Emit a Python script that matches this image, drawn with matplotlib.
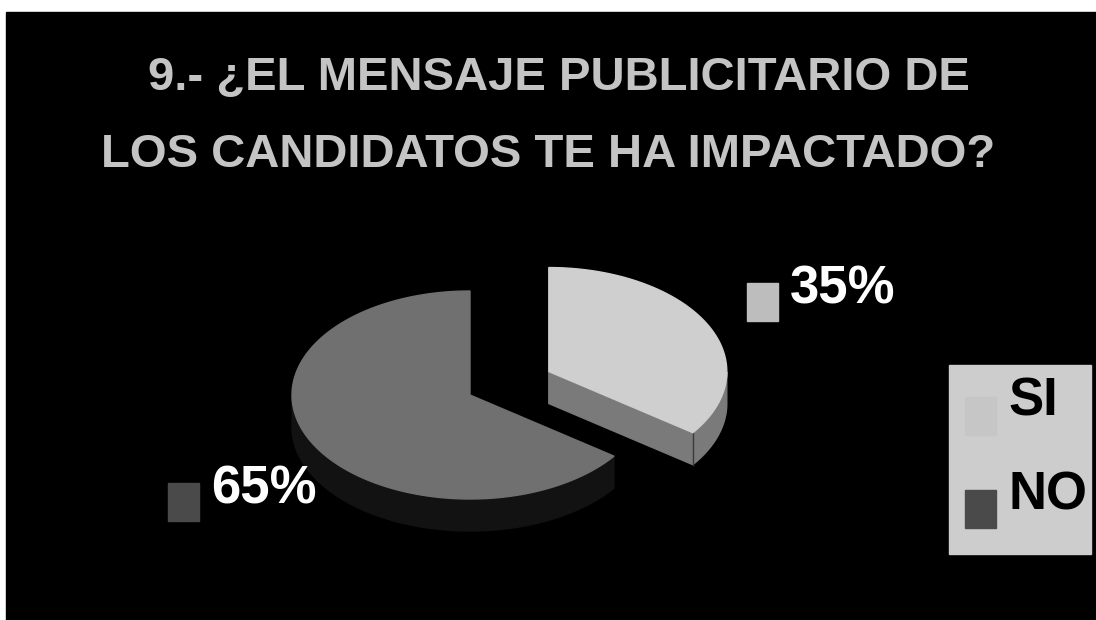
import numpy as np
import matplotlib.pyplot as plt
from matplotlib.patches import Polygon, Rectangle
from matplotlib import font_manager

# Survey answers for question 9
categories = ['SI', 'NO']
values = [35, 65]
top_colors = ['#cfcfcf', '#707070']
side_colors = ['#7a7a7a', '#121212']
marker_colors = ['#bdbdbd', '#4a4a4a']
title_lines = ['9.- ¿EL MENSAJE PUBLICITARIO DE',
               'LOS CANDIDATOS TE HA IMPACTADO?']

names = {f.name for f in font_manager.fontManager.ttflist}
narrow = 'Liberation Sans Narrow' if 'Liberation Sans Narrow' in names else 'Liberation Sans'
fam = [narrow, 'DejaVu Sans']

W, H = 1096, 620
fig = plt.figure(figsize=(W / 100, H / 100), dpi=100, facecolor='white')
ax = fig.add_axes([0, 0, 1, 1])
ax.set_xlim(0, W)
ax.set_ylim(H, 0)
ax.axis('off')

# black slide area
ax.add_patch(Rectangle((6, 12), W - 6, H - 12, color='black', zorder=0))

title_x = [559, 548]
for i, line in enumerate(title_lines):
    ax.text(title_x[i], 90 + i * 77, line, ha='center', va='baseline', color='#c4c4c4',
            fontsize=34, fontweight='bold', family=fam)

# 3d pie geometry (pixel units, y grows downwards)
cx, cy = 470, 395
rx, ry = 178, 104
depth = 32
explode = [0.54, 0.0]


def rim(x0, y0, a):
    a = np.radians(a)
    return x0 + rx * np.cos(a), y0 - ry * np.sin(a)


total = sum(values)
start = 90.0
slices = []
for v, e in zip(values, explode):
    sweep = 360.0 * v / total
    a0, a1 = start - sweep, start
    mid = np.radians((a0 + a1) / 2)
    x0 = cx + e * rx * np.cos(mid) * 0.92
    y0 = cy - e * ry * np.sin(mid) * 0.92
    slices.append((x0, y0, a0, a1))
    start = a0

# NO drawn first, it sits behind
for k in [1, 0]:
    x0, y0, a0, a1 = slices[k]
    ang = np.linspace(a0, a1, 300)
    # outer wall on the front half of the ellipse
    front = ang[np.sin(np.radians(ang)) <= 0]
    if len(front):
        px, py = rim(x0, y0, front)
        pts = np.column_stack([np.r_[px, px[::-1]], np.r_[py, py[::-1] + depth]])
        ax.add_patch(Polygon(pts, closed=True, color=side_colors[k], zorder=2))
    # radial face on the start edge (visible for the pulled out slice)
    if k == 0:
        ex, ey = rim(x0, y0, a0)
        face = [(x0, y0), (ex, ey), (ex, ey + depth), (x0, y0 + depth)]
        ax.add_patch(Polygon(face, closed=True, color=side_colors[k], zorder=3))
        ax.plot([ex, ex], [ey, ey + depth], color='#3a3a3a', lw=1, zorder=3)
    px, py = rim(x0, y0, ang)
    top = np.column_stack([np.r_[x0, px, x0], np.r_[y0, py, y0]])
    ax.add_patch(Polygon(top, closed=True, color=top_colors[k], zorder=4))

# percentage labels beside each slice
label_pos = [(790, 290), (211, 490)]
for k, (lx, ly) in enumerate(label_pos):
    ax.add_patch(Rectangle((lx - 43, ly - 7), 31, 38, color=marker_colors[k], zorder=5))
    ax.text(lx, ly, f'{values[k]}%', ha='left', va='center', color='white',
            fontsize=38, fontweight='bold', family=fam, zorder=5)

# legend box
ax.add_patch(Rectangle((949, 365), 142, 189, color='#cdcdcd', zorder=5))
for k, name in enumerate(categories):
    yy = 390 + k * 93
    ax.add_patch(Rectangle((965, yy + 7), 31, 38, color=marker_colors[k] if k else '#c6c6c6', zorder=6))
    ax.text(1008, yy + 12, name, ha='left', va='center', color='black',
            fontsize=38, fontweight='bold', family=fam, zorder=6)

fig.savefig('out.png', dpi=100, facecolor='white')
